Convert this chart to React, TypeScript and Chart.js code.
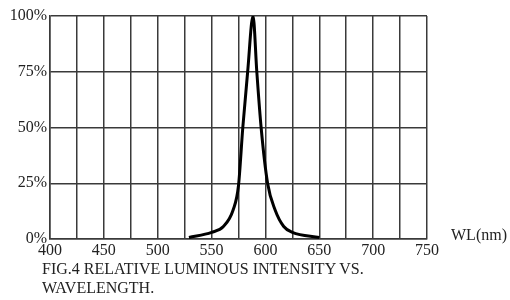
import React, { useEffect, useRef } from "react";
import { Chart, registerables } from "chart.js";

Chart.register(...registerables);

const wavelengths = [529, 550, 561, 570, 575, 579, 583.5, 588.5, 592, 596, 602, 609, 617, 625, 650];
const intensity = [0.7, 3, 5.6, 13, 24, 50, 75, 100, 75, 50, 25, 13, 5.6, 3, 0.7];
const xTickLabels = [400, 450, 500, 550, 600, 650, 700, 750];
const yTickLabels = [0, 25, 50, 75, 100];
const captionLines = ["FIG.4 RELATIVE LUMINOUS INTENSITY VS.", "WAVELENGTH."];
const xUnit = "WL(nm)";

const FONT = "'Liberation Serif', 'Times New Roman', serif";

export default function App() {
  const ref = useRef<HTMLCanvasElement | null>(null);

  useEffect(() => {
    if (!ref.current) return;
    const chart = new Chart(ref.current, {
      type: "line",
      data: {
        datasets: [
          {
            data: wavelengths.map((w, i) => ({ x: w, y: intensity[i] })),
            borderColor: "#000",
            borderWidth: 3,
            pointRadius: 0,
            cubicInterpolationMode: "monotone",
            fill: false,
          },
        ],
      },
      options: {
        responsive: false,
        animation: false,
        layout: { padding: { top: 16, right: 83, bottom: 0, left: 0 } },
        plugins: { legend: { display: false }, tooltip: { enabled: false }, title: { display: false } },
        scales: {
          x: {
            type: "linear",
            min: 400,
            max: 750,
            afterFit: (s: any) => {
              s.height = 61;
            },
            afterBuildTicks: (s: any) => {
              const t = [];
              for (let v = 400; v <= 750; v += 25) t.push({ value: v });
              s.ticks = t;
            },
            grid: { color: "#3a3a3a", lineWidth: 1.5, drawTicks: false },
            border: { display: true, color: "#3a3a3a", width: 1.5 },
            ticks: {
              autoSkip: false,
              maxRotation: 0,
              padding: 2,
              color: "#222",
              font: { family: FONT, size: 16 },
              callback: (v: any) => (xTickLabels.includes(Number(v)) ? String(v) : ""),
            },
          },
          y: {
            min: 0,
            max: 100,
            afterFit: (s: any) => {
              s.width = 50;
            },
            grid: { color: "#3a3a3a", lineWidth: 1.5, drawTicks: false },
            border: { display: true, color: "#3a3a3a", width: 1.5 },
            ticks: {
              stepSize: 25,
              padding: 3,
              color: "#222",
              font: { family: FONT, size: 16 },
              callback: (v: any) => (yTickLabels.includes(Number(v)) ? v + "%" : ""),
            },
          },
        },
      },
    });
    return () => chart.destroy();
  }, []);

  return (
    <div style={{ position: "absolute", left: 0, top: 0, width: 510, height: 300, background: "#fff" }}>
      <canvas ref={ref} width={510} height={300} style={{ position: "absolute", left: 0, top: 0 }} />
      <div
        style={{
          position: "absolute",
          left: 451,
          top: 225,
          fontFamily: FONT,
          fontSize: 16,
          color: "#222",
          lineHeight: "19px",
          whiteSpace: "nowrap",
        }}
      >
        {xUnit}
      </div>
      <div
        style={{
          position: "absolute",
          left: 42,
          top: 259,
          fontFamily: FONT,
          fontSize: 16,
          color: "#222",
          lineHeight: "19px",
          whiteSpace: "nowrap",
        }}
      >
        {captionLines.map((l, i) => (
          <div key={i}>{l}</div>
        ))}
      </div>
    </div>
  );
}
